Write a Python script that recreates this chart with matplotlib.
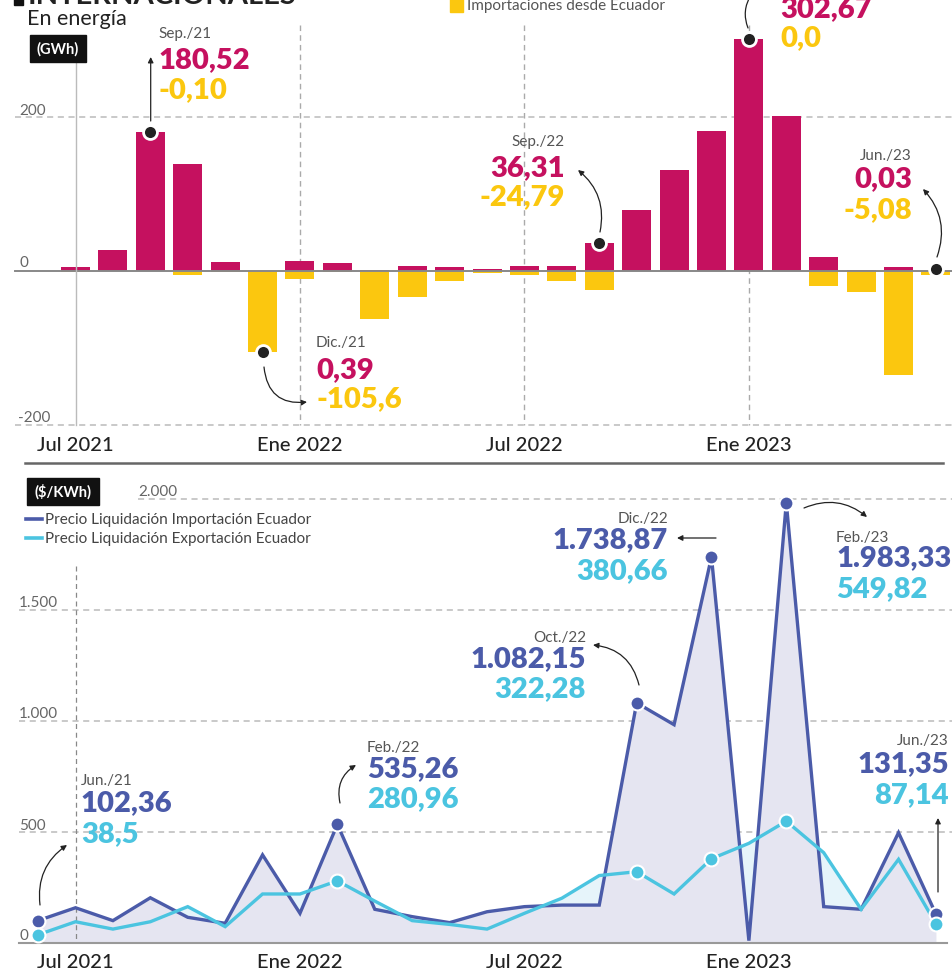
import matplotlib
matplotlib.use('Agg')
import matplotlib.pyplot as plt
import matplotlib.transforms as mtrans
import numpy as np

W, H = 952, 971
plt.rcParams['font.family'] = ['Lato', 'DejaVu Sans']

# ---------------- DATA ----------------
months = ['Jun/21', 'Jul/21', 'Ago/21', 'Sep/21', 'Oct/21', 'Nov/21', 'Dic/21',
          'Ene/22', 'Feb/22', 'Mar/22', 'Abr/22', 'May/22', 'Jun/22', 'Jul/22',
          'Ago/22', 'Sep/22', 'Oct/22', 'Nov/22', 'Dic/22', 'Ene/23', 'Feb/23',
          'Mar/23', 'Abr/23', 'May/23', 'Jun/23']
# Energy (GWh), Jul/21 .. Jun/23
export_gwh = [5, 27, 180.52, 140, 12, 0.39, 13, 11, 2, 6.5, 5, 2.5, 6.5, 6.5,
              36.31, 80, 132, 183, 302.67, 202, 19, 1.5, 5, 0.03]
import_gwh = [-0.5, -0.3, -0.10, -5, -0.5, -105.6, -10, -0.5, -62, -33, -13, -2.5,
              -5, -13, -24.79, 0, 0, 0, 0.0, 0, -19.5, -27.5, -135, -5.08]
# Prices ($/KWh), Jun/21 .. Jun/23
precio_import = [102.36, 160, 102, 205, 117, 90, 398, 135, 535.26, 153, 120, 93,
                 142, 165, 172, 172, 1082.15, 984, 1738.87, 12, 1983.33, 165, 153,
                 498, 131.35]
precio_export = [38.5, 97, 64, 97, 165, 75, 222, 222, 280.96, 190, 102, 85,
                 64, 135, 203, 305, 322.28, 222, 380.66, 450, 549.82, 408, 153,
                 378, 87.14]
tick_labels = ['Jul 2021', 'Ene 2022', 'Jul 2022', 'Ene 2023']
tick_idx = [1, 7, 13, 19]
gwh_ticks = [200, 0, -200]
gwh_tick_labels = ['200', '0', '-200']
price_ticks = [2000, 1500, 1000, 500, 0]
price_tick_labels = ['2.000', '1.500', '1.000', '500', '0']

MAG = '#C5115F'
YEL = '#FBC70F'
DBLUE = '#4B5BA9'
CYAN = '#4BC4E0'
LAV = '#E5E5F1'
CFILL = '#E6F4FA'
GRAY = '#555555'
DARK = '#222222'

fig = plt.figure(figsize=(W / 100, H / 100), dpi=100)
fig.patch.set_facecolor('white')


def fp(x, y):
    return (x / W, 1 - y / H)


def px2i(x):
    return (x - 38.1) / 37.41


XL = (px2i(0), px2i(W))

# ---------------- TOP PANEL ----------------
ax1 = fig.add_axes([0, 1 - 450 / H, 1, 450 / H])
ax1.set_xlim(*XL)
ax1.set_ylim((271.25 - 450) / 0.76875, 271.25 / 0.76875)
ax1.axis('off')

xb = np.arange(1, 25)
ax1.bar(xb, import_gwh, width=0.775, color=YEL, zorder=2)
ax1.bar(xb, export_gwh, width=0.775, color=MAG, zorder=3)

for v in [200, -200]:
    ax1.plot([px2i(15), px2i(W)], [v, v], color='#BBBBBB', lw=1.1,
             dashes=(4, 3), zorder=1)
ax1.plot([px2i(15), px2i(W)], [0, 0], color='#888888', lw=1.4, zorder=4)

blend1 = mtrans.blended_transform_factory(ax1.transData, fig.transFigure)
ax1.plot([1, 1], [1 - 40 / H, 1 - 425 / H], transform=blend1, color='#BBBBBB',
         lw=1.0, zorder=6)
for i in tick_idx[1:]:
    ax1.plot([i, i], [1 - 25 / H, 1 - 425 / H], transform=blend1,
             color='#AAAAAA', lw=1.0, dashes=(4, 3), zorder=1)

for v, lab, bx, by in zip(gwh_ticks, gwh_tick_labels, [19, 19, 18], [115, 267, 422]):
    fig.text(*fp(bx, by), lab, fontsize=11, color='#666666', va='baseline',
             ha='left')
for i, lab in zip(tick_idx, tick_labels):
    ax1.text(i, 1 - 451 / H, lab, transform=blend1, ha='center', va='baseline',
             fontsize=14.5, color=DARK, fontweight='medium')

for i, v in [(3, export_gwh[2]), (6, import_gwh[5]), (15, export_gwh[14]),
             (19, export_gwh[18]), (24, export_gwh[23] + 3)]:
    ax1.plot(i, v, 'o', ms=10, color=DARK, mec='white', mew=2, zorder=8,
             clip_on=False)

# title (cut at the top edge, as in the reference) and subtitle
fig.patches.append(plt.Rectangle(fp(14, 5), 9 / W, 8 / H, transform=fig.transFigure,
                                 color='#111111'))
fig.text(*fp(28, 3.5), 'INTERNACIONALES', fontsize=21, color='#222222',
         va='baseline', ha='left', fontweight='bold')
fig.text(*fp(27, 25), 'En energía', fontsize=15.5, color=DARK, va='baseline')
fig.patches.append(plt.Rectangle(fp(30, 62), 56 / W, 27 / H,
                                 transform=fig.transFigure, color='#111111'))
fig.text(*fp(58, 54), '(GWh)', fontsize=10.5, color='white', fontweight='bold',
         ha='center', va='baseline')
fig.patches.append(plt.Rectangle(fp(450, 12), 13 / W, 14 / H,
                                 transform=fig.transFigure, color=YEL))
fig.text(*fp(467, 10), 'Importaciones desde Ecuador', fontsize=11,
         color='#555555', va='baseline')


def block(x, ys, texts, colors, ha='left'):
    sizes = [11, 21, 21]
    weights = ['normal', 'heavy', 'heavy']
    for y, t, c, s, w in zip(ys, texts, colors, sizes, weights):
        fig.text(*fp(x, y), t, fontsize=s, color=c, fontweight=w, ha=ha,
                 va='baseline')


def arrow(p0, p1, rad=0.0, head=True):
    fig.add_artist(matplotlib.patches.FancyArrowPatch(
        fp(*p0), fp(*p1), transform=fig.transFigure,
        arrowstyle='-|>' if head else '-', mutation_scale=8, color=DARK, lw=0.9,
        connectionstyle=f'arc3,rad={rad}', shrinkA=0, shrinkB=0))


block(158, [38, 68, 98], ['Sep./21', '180,52', '-0,10'], [GRAY, MAG, YEL])
block(316, [347, 378, 407], ['Dic./21', '0,39', '-105,6'], [GRAY, MAG, YEL])
block(565, [146, 176, 205], ['Sep./22', '36,31', '-24,79'], [GRAY, MAG, YEL], ha='right')
fig.text(*fp(780, 17), '302,67', fontsize=21, color=MAG, fontweight='heavy',
         va='baseline')
fig.text(*fp(780, 46), '0,0', fontsize=21, color=YEL, fontweight='heavy',
         va='baseline')
block(912, [160, 187, 218], ['Jun./23', '0,03', '-5,08'], [GRAY, MAG, YEL], ha='right')

arrow((150.7, 121), (150.7, 57))
arrow((264, 367), (307, 402), rad=0.5)
arrow((600, 232), (578, 170), rad=0.3)
arrow((748, 28), (751, -5), rad=-0.25, head=False)
arrow((937, 257), (923, 189), rad=0.3)

fig.add_artist(plt.Line2D([25 / W, 943 / W], [1 - 463 / H] * 2,
                          transform=fig.transFigure, color='#666666', lw=1.8))

# ---------------- BOTTOM PANEL ----------------
ax2 = fig.add_axes([0, 0, 1, 501 / H])
ax2.set_xlim(*XL)
ax2.set_ylim((943.3 - 971) / 0.22215, (943.3 - 470) / 0.22215)
ax2.axis('off')

xp = np.arange(len(months))
pi = np.array(precio_import, dtype=float)
pe = np.array(precio_export, dtype=float)
ax2.fill_between(xp, 0, pi, color=LAV, lw=0, zorder=1)
ax2.fill_between(xp, pi, pe, where=pe > pi, interpolate=True, color=CFILL, lw=0,
                 zorder=1)

ax2.plot([px2i(138), px2i(W)], [2000, 2000], color='#BBBBBB', lw=1.1,
         dashes=(4, 3), zorder=0.5)
for v in [1500, 1000, 500]:
    ax2.plot([px2i(19), px2i(W)], [v, v], color='#BBBBBB', lw=1.1,
             dashes=(4, 3), zorder=0.5)
ax2.plot([px2i(19), px2i(947)], [0, 0], color='#999999', lw=1.5, zorder=2)
blend2 = mtrans.blended_transform_factory(ax2.transData, fig.transFigure)
ax2.plot([1, 1], [1 - 566 / H, 1 - 943 / H], transform=blend2, color='#888888',
         lw=0.9, dashes=(4, 3), zorder=1.5)

ax2.plot(xp, pi, color=DBLUE, lw=2.4, zorder=3, solid_joinstyle='miter')
ax2.plot(xp, pe, color=CYAN, lw=2.4, zorder=4, solid_joinstyle='miter')

hl = [0, 8, 16, 18, 20, 24]
ax2.plot(xp[hl], pi[hl], 'o', ms=10, color=DBLUE, mec='white', mew=1.5, zorder=5,
         clip_on=False)
ax2.plot(xp[hl], pe[hl], 'o', ms=10, color=CYAN, mec='white', mew=1.5, zorder=6,
         clip_on=False)

for lab, bx, by in zip(price_tick_labels, [138, 19, 19, 19, 20],
                       [496, 607, 718, 830, 940]):
    fig.text(*fp(bx, by), lab, fontsize=11, color='#666666', va='baseline',
             ha='left')
for i, lab in zip(tick_idx, tick_labels):
    ax2.text(i, 1 - 968 / H, lab, transform=blend2, ha='center', va='baseline',
             fontsize=14.5, color=DARK, fontweight='medium')

fig.patches.append(plt.Rectangle(fp(27, 505), 72 / W, 27 / H,
                                 transform=fig.transFigure, color='#111111'))
fig.text(*fp(63, 497), '($/KWh)', fontsize=10.5, color='white',
         fontweight='bold', ha='center', va='baseline')

for y, col, lab in [(519, DBLUE, 'Precio Liquidación Importación Ecuador'),
                    (538, CYAN, 'Precio Liquidación Exportación Ecuador')]:
    fig.add_artist(plt.Line2D([26 / W, 42 / W], [1 - y / H] * 2,
                              transform=fig.transFigure, color=col, lw=2.6))
    fig.text(*fp(45, y + 5), lab, fontsize=11, color='#444444', va='baseline')

block(81, [785, 811, 842], ['Jun./21', '102,36', '38,5'], [GRAY, DBLUE, CYAN])
block(367, [752, 777, 807], ['Feb./22', '535,26', '280,96'], [GRAY, DBLUE, CYAN])
block(586, [642, 667, 697], ['Oct./22', '1.082,15', '322,28'], [GRAY, DBLUE, CYAN], ha='right')
block(668, [523, 548, 579], ['Dic./22', '1.738,87', '380,66'], [GRAY, DBLUE, CYAN], ha='right')
block(836, [542, 566, 597], ['Feb./23', '1.983,33', '549,82'], [GRAY, DBLUE, CYAN])
block(949, [745, 772, 803], ['Jun./23', '131,35', '87,14'], [GRAY, DBLUE, CYAN], ha='right')

arrow((40, 905), (67, 845), rad=-0.3)
arrow((340, 803), (356, 765), rad=-0.35)
arrow((639, 685), (593, 645), rad=0.35)
arrow((716, 538), (677, 538))
arrow((804, 508), (867, 517), rad=-0.3)
arrow((938, 892), (938, 818))

fig.savefig('out.png', dpi=100, facecolor='white')
